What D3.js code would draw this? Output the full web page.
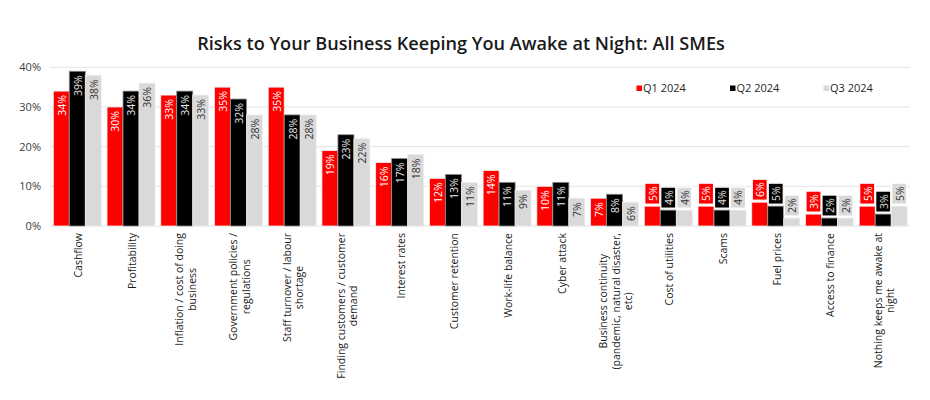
<!DOCTYPE html>
<html>
<head>
<meta charset="utf-8">
<script src="https://cdn.jsdelivr.net/npm/d3@7"></script>
<style>
  html, body { margin: 0; padding: 0; background: #fff; }
  svg { display: block; font-family: "Open Sans", sans-serif; }
</style>
</head>
<body>
<svg id="chart" width="930" height="400"></svg>
<script>
const title = "Risks to Your Business Keeping You Awake at Night: All SMEs";
const categories = [
  ["Cashflow"],
  ["Profitability"],
  ["Inflation / cost of doing", "business"],
  ["Government policies /", "regulations"],
  ["Staff turnover / labour", "shortage"],
  ["Finding customers / customer", "demand"],
  ["Interest rates"],
  ["Customer retention"],
  ["Work-life balance"],
  ["Cyber attack"],
  ["Business continuity", "(pandemic, natural disaster,", "etc)"],
  ["Cost of utilities"],
  ["Scams"],
  ["Fuel prices"],
  ["Access to finance"],
  ["Nothing keeps me awake at", "night"]
];
const seriesNames = ["Q1 2024", "Q2 2024", "Q3 2024"];
const q1 = [34, 30, 33, 35, 35, 19, 16, 12, 14, 10, 7, 5, 5, 6, 3, 5];
const q2 = [39, 34, 34, 32, 28, 23, 17, 13, 11, 11, 8, 4, 4, 5, 2, 3];
const q3 = [38, 36, 33, 28, 28, 22, 18, 11, 9, 7, 6, 4, 4, 2, 2, 5];
const yTicks = [0, 10, 20, 30, 40];
// categories whose data labels sit outside the bar end, in a filled box
const outsideFrom = 11;

const series = [q1, q2, q3];
const colors = ["#ff0000", "#000000", "#d9d9d9"];
const insideText = ["#ffffff", "#e8e8e8", "#333333"];
const boxText = ["#ffffff", "#e0e0e0", "#333333"];

const svg = d3.select("#chart");
const catKeys = categories.map((c, i) => i);

const x = d3.scaleBand().domain(catKeys).range([50.5, 910]).paddingInner(0.1066).paddingOuter(0.052);
const xs = d3.scaleBand().domain([0, 1, 2]).range([0, x.bandwidth()]);
const y = d3.scaleLinear().domain([0, 40]).range([226, 67.3]);

// Title
const t = svg.append("text")
  .attr("x", 461).attr("y", 50)
  .attr("text-anchor", "middle")
  .attr("font-weight", 600)
  .attr("font-size", 17)
  .attr("fill", "#1a1a1a")
  .text(title);
const tl = t.node().getComputedTextLength();
t.attr("font-size", 17 * 528 / tl);

// Gridlines
svg.append("g").selectAll("line").data(yTicks).join("line")
  .attr("x1", 50).attr("x2", 910)
  .attr("y1", d => y(d)).attr("y2", d => y(d))
  .attr("stroke", "#e4e4e4").attr("stroke-width", 1);

// Y axis labels
const yAxis = d3.axisLeft(y).tickValues(yTicks).tickFormat(d => d + "%").tickSize(0).tickPadding(0);
const ga = svg.append("g").attr("transform", "translate(41,0)").call(yAxis);
ga.select(".domain").remove();
ga.selectAll("text").attr("font-size", 11).attr("fill", "#404040").attr("font-family", "Open Sans, sans-serif");

// Bars
const groups = svg.append("g").selectAll("g").data(catKeys).join("g")
  .attr("transform", i => `translate(${x(i)},0)`);

groups.each(function(ci) {
  const g = d3.select(this);
  series.forEach((s, si) => {
    const v = s[ci];
    const bx = xs(si), bw = xs.bandwidth();
    g.append("rect")
      .attr("x", bx).attr("y", y(v))
      .attr("width", bw).attr("height", y(0) - y(v))
      .attr("fill", colors[si])
      .attr("stroke", si === 1 ? "#8c8c8c" : "#eeeeee")
      .attr("stroke-width", 0.8);
    const cx = bx + bw / 2;
    if (ci >= outsideFrom) {
      const bh = 21;
      const bot = y(v) - 2;
      g.append("rect")
        .attr("x", bx + 0.5).attr("y", bot - bh)
        .attr("width", bw - 1).attr("height", bh)
        .attr("fill", colors[si])
        .attr("stroke", "#ffffff").attr("stroke-width", 1.2);
      g.append("text")
        .attr("transform", `translate(${cx + 0.3},${bot - bh / 2}) rotate(-90)`)
        .attr("text-anchor", "middle")
        .attr("dominant-baseline", "central")
        .attr("font-size", 10.5)
        .attr("fill", boxText[si])
        .text(v + "%");
    } else {
      g.append("text")
        .attr("transform", `translate(${cx + 0.3},${y(v) + 4}) rotate(-90)`)
        .attr("text-anchor", "end")
        .attr("dominant-baseline", "central")
        .attr("font-size", 10.5)
        .attr("fill", insideText[si])
        .text(v + "%");
    }
  });

  // Category label
  const lines = categories[ci];
  const cxg = x.bandwidth() / 2 + 1;
  const tmp = lines.map((ln) => g.append("text")
    .attr("font-size", 10.5).attr("fill", "#1a1a1a")
    .attr("text-anchor", "middle").attr("dominant-baseline", "central")
    .text(ln));
  const maxLen = d3.max(tmp, n => n.node().getComputedTextLength());
  const lh = 12.5;
  tmp.forEach((n, li) => {
    const off = (li - (lines.length - 1) / 2) * lh;
    n.attr("transform", `translate(${cxg + off},${233 + maxLen / 2}) rotate(-90)`);
  });
});

// Legend
const lg = svg.append("g").selectAll("g").data(seriesNames).join("g")
  .attr("transform", (d, i) => `translate(${636.5 + i * 93.5},0)`);
lg.append("rect").attr("x", 0).attr("y", 85.5).attr("width", 5.5).attr("height", 5.5)
  .attr("fill", (d, i) => colors[i]);
lg.append("text").attr("x", 6.5).attr("y", 92.3)
  .attr("font-size", 11).attr("fill", "#262626").text(d => d);
</script>
</body>
</html>
